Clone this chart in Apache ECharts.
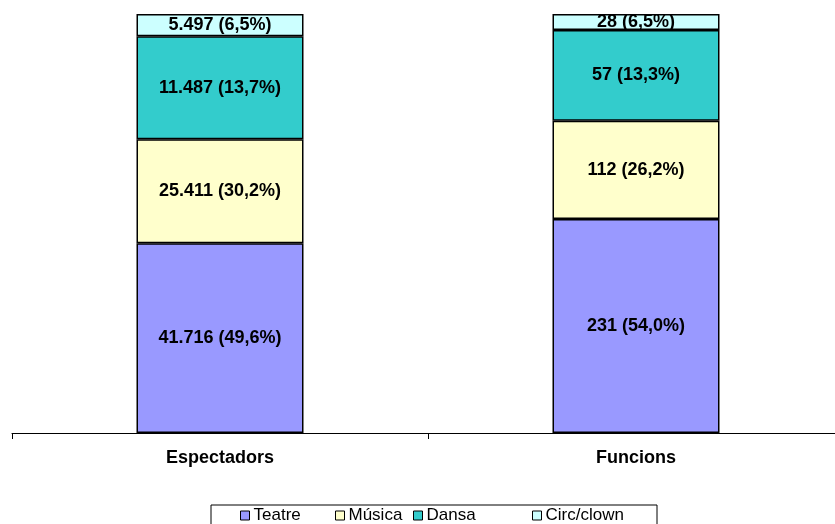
<!DOCTYPE html>
<html>
<head>
<meta charset="utf-8">
<script src="https://cdn.jsdelivr.net/npm/echarts@6/dist/echarts.min.js"></script>
<style>
html,body{margin:0;padding:0;background:#fff;overflow:hidden;width:835px;height:524px;}
#chart{width:844px;height:524px;}
</style>
</head>
<body>
<div id="chart"></div>
<script>
// Categories
var categories = ['Espectadors', 'Funcions'];
// Series names
var seriesNames = ['Teatre', 'Música', 'Dansa', 'Circ/clown'];
// Segment heights as drawn in the picture (share of bar height, %)
var teatre = [45.3, 51.1];
var musica = [24.8, 23.4];
var dansa  = [24.6, 21.7];
var circ   = [5.3, 3.8];
// Counts and percentages shown in the labels
var teatreCount = [41716, 231], teatrePct = [49.6, 54.0];
var musicaCount = [25411, 112], musicaPct = [30.2, 26.2];
var dansaCount  = [11487, 57],  dansaPct  = [13.7, 13.3];
var circCount   = [5497, 28],   circPct   = [6.5, 6.5];

var colors = ['#9999FF', '#FFFFCC', '#33CCCC', '#CCFFFF'];
var FONT = 'Arial, "Liberation Sans", sans-serif';

function fmtNum(n){ return String(n).replace(/\B(?=(\d{3})+(?!\d))/g, '.'); }
function fmtPct(p){ return p.toFixed(1).replace('.', ','); }
function labels(counts, pcts){ return counts.map(function(c,i){ return fmtNum(c) + ' (' + fmtPct(pcts[i]) + '%)'; }); }

var values = [teatre, musica, dansa, circ];
var labelTexts = [labels(teatreCount, teatrePct), labels(musicaCount, musicaPct), labels(dansaCount, dansaPct), labels(circCount, circPct)];

var series = seriesNames.map(function(name, k){
  return {
    name: name,
    type: 'bar',
    stack: 'total',
    barWidth: 167,
    data: values[k],
    itemStyle: { color: colors[k], borderColor: '#000', borderWidth: 1.5 },
    label: {
      show: true,
      position: 'inside',
      color: '#000',
      fontFamily: FONT,
      fontWeight: 'bold',
      fontSize: 18,
      formatter: function(p){ return labelTexts[k][p.dataIndex]; }
    }
  };
});

var legendX = [240, 335, 413, 532];
var legends = seriesNames.map(function(name, k){
  return {
    data: [name],
    left: legendX[k],
    top: 507,
    padding: 0,
    icon: 'rect',
    itemWidth: 9,
    itemHeight: 9,
    selectedMode: false,
    itemStyle: { borderColor: '#000', borderWidth: 1 },
    textStyle: { fontFamily: FONT, fontSize: 17, color: '#000', lineHeight: 17, padding: [0,0,0,-1] }
  };
});

var chart = echarts.init(document.getElementById('chart'));
chart.setOption({
  animation: false,
  backgroundColor: '#fff',
  color: colors,
  grid: { left: 12, right: 0, top: 14, bottom: 91, containLabel: false },
  xAxis: {
    type: 'category',
    data: categories,
    axisLine: { lineStyle: { color: '#000', width: 1 } },
    axisTick: { show: true, length: 6, lineStyle: { color: '#000' } },
    axisLabel: {
      color: '#000',
      fontFamily: FONT,
      fontWeight: 'bold',
      fontSize: 18,
      margin: 16
    }
  },
  yAxis: { type: 'value', min: 0, max: 100, show: false },
  legend: legends,
  graphic: [{
    type: 'rect',
    left: 208.5, top: 502.5,
    shape: { width: 446, height: 30 },
    style: { fill: 'none', stroke: '#000', lineWidth: 1 },
    silent: true
  }],
  series: series
});
</script>
</body>
</html>
